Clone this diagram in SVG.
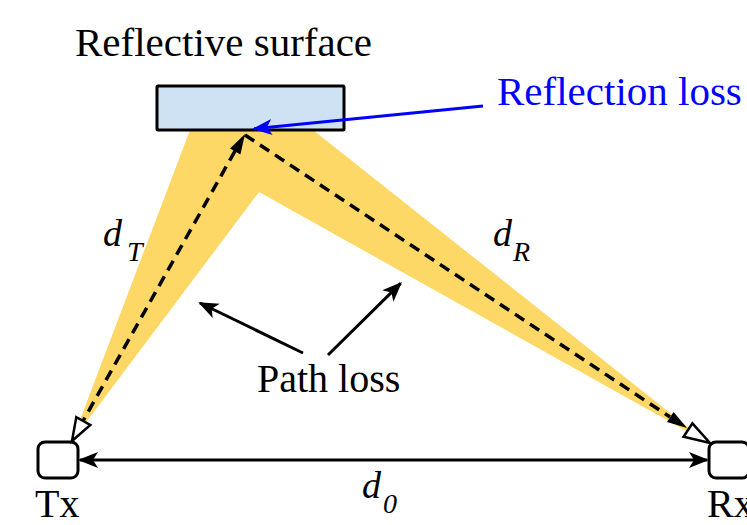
<svg xmlns="http://www.w3.org/2000/svg" width="747" height="525" viewBox="0 0 747 525">
<style>
.t{font-family:"Liberation Serif","Times New Roman",serif;font-size:40px;fill:#000}
.it{font-family:"Liberation Serif","Times New Roman",serif;font-style:italic;fill:#000}
.blk{stroke:#000;stroke-width:3;fill:none}
.dash{stroke:#000;stroke-width:3.5;fill:none;stroke-dasharray:11 7}
.hollow{fill:#fff;stroke:#000;stroke-width:2.5;stroke-linejoin:miter}
</style>
<defs>
<marker id="ah" viewBox="-22 -10 24 20" refX="-2" refY="0" markerWidth="24" markerHeight="20" markerUnits="userSpaceOnUse" orient="auto-start-reverse">
<path d="M0,0 L-20,-8 L-15,0 L-20,8 Z" fill="#000"/>
</marker>
<marker id="ahb" viewBox="-22 -10 24 20" refX="-2" refY="0" markerWidth="24" markerHeight="20" markerUnits="userSpaceOnUse" orient="auto">
<path d="M0,0 L-20,-8 L-15,0 L-20,8 Z" fill="#0000ff"/>
</marker>
</defs>
<g id="beam">
<polygon points="190,130 72,441 259,192 708,443 313,130" fill="#fdd866"/>
</g>
<g id="surface">
<rect x="157" y="86" width="187" height="44" fill="#cfe2f3" stroke="#000" stroke-width="3" rx="1"/>
<text class="t" x="75" y="56" font-size="41" style="font-size:41px">Reflective surface</text>
</g>
<g id="tx">
<rect x="38" y="442" width="40" height="36" rx="7" fill="#fff" stroke="#000" stroke-width="3"/>
<text class="t" x="35" y="517">Tx</text>
</g>
<g id="rx">
<rect x="709" y="442" width="40" height="36" rx="7" fill="#fff" stroke="#000" stroke-width="3"/>
<text class="t" x="707" y="517">Rx</text>
</g>
<g id="labels">
<text class="t" x="497" y="105" style="fill:#0000ff;font-size:41px">Reflection loss</text>
<text class="t" x="257" y="392">Path loss</text>
<text class="it" x="103" y="246" font-size="38">d</text>
<text class="it" x="127" y="261" font-size="28">T</text>
<text class="it" x="493" y="246" font-size="38">d</text>
<text class="it" x="513" y="261" font-size="28">R</text>
<text class="it" x="362" y="498" font-size="38">d</text>
<text class="it" x="383" y="513" font-size="28">0</text>
</g>
<g id="connectors">
<line class="dash" x1="235" y1="151" x2="83" y2="421"/>
<polygon points="245,134 240.4,154.4 230,148.4" fill="#000"/>
<polygon class="hollow" points="72,441 90.3,424.9 76.3,417.1"/>
<line class="dash" x1="245" y1="135" x2="670" y2="417"/>
<polygon points="687,428 667,421.9 673.6,411.9" fill="#000"/>
<polygon class="hollow" points="710,443 683.6,436.7 692.4,423.3"/>
<line class="blk" x1="80" y1="460" x2="707" y2="460" marker-start="url(#ah)" marker-end="url(#ah)"/>
<line x1="483" y1="106" x2="254" y2="128.8" stroke="#0000ff" stroke-width="3" marker-end="url(#ahb)"/>
<line class="blk" x1="303" y1="353" x2="200" y2="303" marker-end="url(#ah)"/>
<line class="blk" x1="328" y1="355" x2="400.6" y2="283.4" marker-end="url(#ah)"/>
</g>
</svg>
